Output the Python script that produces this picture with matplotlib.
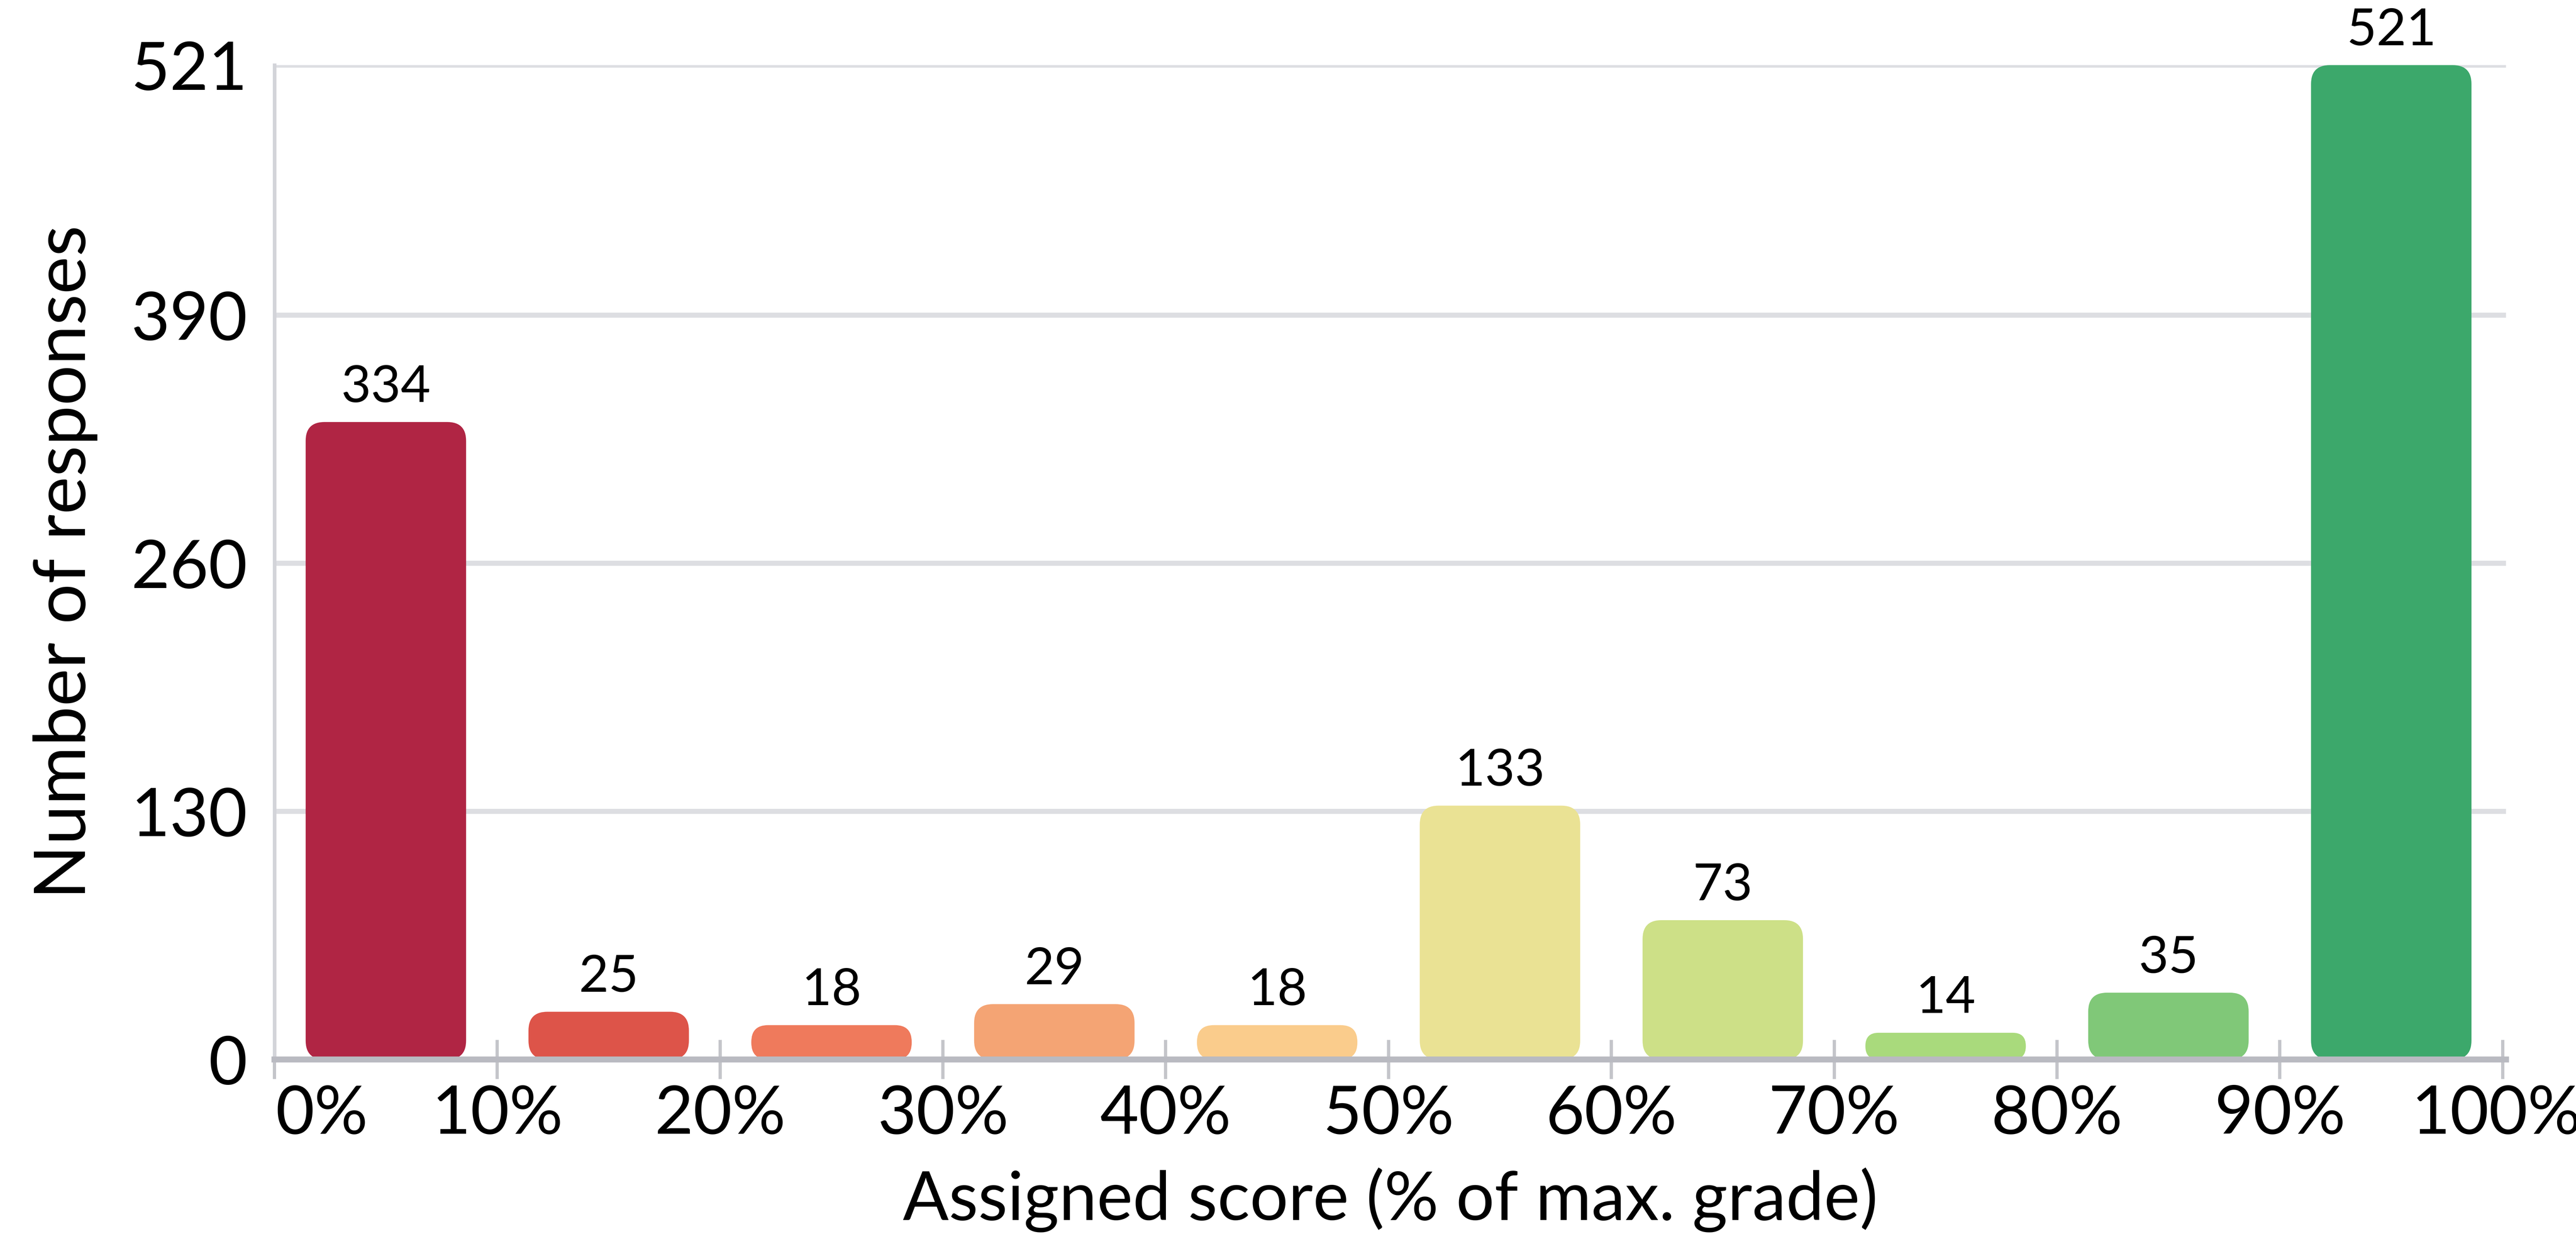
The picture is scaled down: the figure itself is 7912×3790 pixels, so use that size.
import matplotlib
matplotlib.use("Agg")
import matplotlib.pyplot as plt
from matplotlib.patches import FancyBboxPatch
import matplotlib.transforms as mtransforms

# ---- data ----
bin_starts = [0, 1, 2, 3, 4, 5, 6, 7, 8, 9]
counts = [334, 25, 18, 29, 18, 133, 73, 14, 35, 521]
bar_colors = ["#b02544", "#dd5449", "#ef7a5c", "#f4a474", "#facc8c",
              "#eae294", "#cde087", "#a9da7c", "#80c878", "#3ca86b"]
xtick_labels = ["0%", "10%", "20%", "30%", "40%", "50%", "60%", "70%", "80%", "90%", "100%"]
ytick_values = [0, 130, 260, 390, 521]
xlabel = "Assigned score (% of max. grade)"
ylabel = "Number of responses"

plt.rcParams['font.family'] = ['Lato', 'DejaVu Sans']

W, H, DPI = 7912, 3790, 400
fig = plt.figure(figsize=(W / DPI, H / DPI), dpi=DPI)
ax_left, ax_right, ax_bottom, ax_top = 843, 7697, 536, 3590
ax = fig.add_axes([ax_left / W, ax_bottom / H, (ax_right - ax_left) / W, (ax_top - ax_bottom) / H])

ax.set_xlim(0, 10.015)
ax.set_ylim(0, 521)

bar_w = 0.72
ax_w_px = ax_right - ax_left
ax_h_px = ax_top - ax_bottom
x_per_px = 10.015 / ax_w_px
y_per_px = 521 / ax_h_px
aspect = y_per_px / x_per_px
radius_px = 58

centers = [s + 0.5 for s in bin_starts]
for c, v, col in zip(centers, counts, bar_colors):
    r = min(radius_px * x_per_px, (v / 2) / aspect * 0.98)
    p = FancyBboxPatch((c - bar_w / 2, 0), bar_w, v,
                       boxstyle=f"round,pad=0,rounding_size={r}",
                       mutation_aspect=aspect, facecolor=col, edgecolor='none',
                       zorder=3)
    ax.add_patch(p)
    ax.annotate(str(v), (c, v), xytext=(0, 11), textcoords='offset points',
                ha='center', va='baseline', fontsize=28.5, color='black', zorder=4)

# grid
for yv in ytick_values[1:]:
    ax.axhline(yv, color='#dddee2', lw=2.8, zorder=1, solid_capstyle='butt')

# spines
for s in ['top', 'right']:
    ax.spines[s].set_visible(False)
ax.spines['left'].set_color('#d3d4d9')
ax.spines['left'].set_linewidth(2.0)
ax.spines['bottom'].set_color('#b9bac1')
ax.spines['bottom'].set_linewidth(3.3)
ax.spines['bottom'].set_zorder(5)

ax.set_xticks(range(11))
ax.set_xticklabels(xtick_labels, fontsize=37)
ax.set_yticks(ytick_values)
ax.set_yticklabels([str(v) for v in ytick_values], fontsize=37)
ax.tick_params(axis='x', direction='inout', length=21.6, width=1.8, color='#c4c5ca', pad=3)
ax.tick_params(axis='y', length=0, pad=15)

lbls = ax.get_xticklabels()
lbls[0].set_horizontalalignment('left')
lbls[0].set_transform(lbls[0].get_transform() + mtransforms.ScaledTranslation(4 / DPI, 0, fig.dpi_scale_trans))
lbls[-1].set_transform(lbls[-1].get_transform() + mtransforms.ScaledTranslation(-20 / DPI, 0, fig.dpi_scale_trans))

ax.set_xlabel(xlabel, fontsize=37.5)
ax.xaxis.set_label_coords(0.5, (43 - ax_bottom) / ax_h_px)
ax.xaxis.label.set_verticalalignment('baseline')
ax.set_ylabel(ylabel, fontsize=39.5)
ax.yaxis.set_label_coords((300 - ax_left) / ax_w_px, 0.5)

fig.savefig("out.png", dpi=DPI, facecolor='white')
